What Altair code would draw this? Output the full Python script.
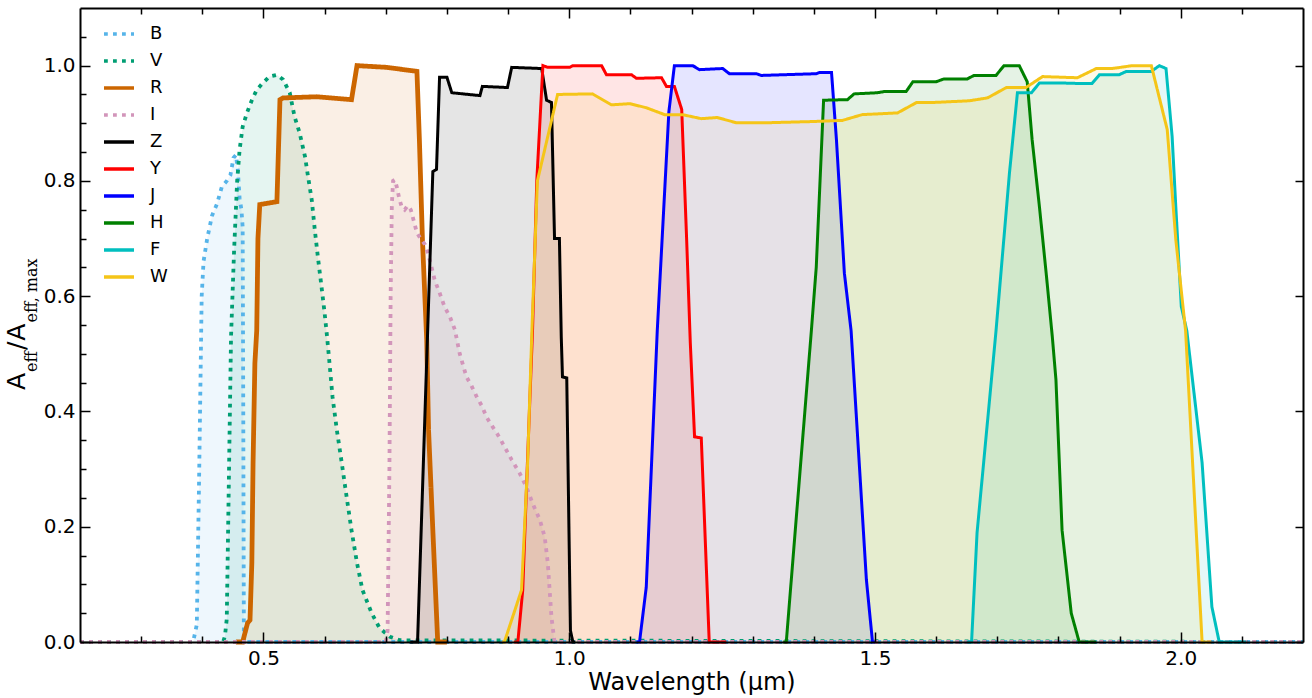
import altair as alt
import pandas as pd

bands = ["B", "V", "R", "I", "Z", "Y", "J", "H", "F", "W"]
band_colors = ["#56B4E9", "#009E73", "#CC6600", "#D295BA", "#000000",
               "#FF0000", "#0000FF", "#008000", "#00BFBF", "#F5C518"]
dot = [3.8, 5.2]
solid = [1, 0]
band_dashes = [dot, dot, solid, dot, solid, solid, solid, solid, solid, solid]

B_wl = [0.2, 0.385, 0.391, 0.395, 0.399, 0.402, 0.408, 0.416, 0.424, 0.432, 0.440,
        0.446, 0.451, 0.455, 0.458, 0.461, 0.464, 0.466, 0.467, 0.468, 2.2]
B_eff = [0, 0, 0.03, 0.30, 0.60, 0.66, 0.70, 0.74, 0.76, 0.79, 0.80,
         0.81, 0.84, 0.845, 0.82, 0.77, 0.75, 0.72, 0.40, 0.0, 0]

V_wl = [0.2, 0.434, 0.437, 0.440, 0.443, 0.447, 0.452, 0.457, 0.461, 0.466, 0.473,
        0.481, 0.489, 0.499, 0.510, 0.522, 0.532, 0.543, 0.551, 0.559, 0.568, 0.573,
        0.579, 0.584, 0.589, 0.595, 0.600, 0.604, 0.608, 0.613, 0.620, 0.628, 0.636,
        0.644, 0.653, 0.662, 0.677, 0.690, 0.707, 0.723, 2.2]
V_eff = [0, 0, 0.01, 0.04, 0.25, 0.53, 0.68, 0.80, 0.854, 0.894, 0.918,
         0.94, 0.958, 0.97, 0.981, 0.984, 0.976, 0.953, 0.911, 0.884, 0.842, 0.807,
         0.767, 0.715, 0.668, 0.616, 0.571, 0.53, 0.484, 0.425, 0.368, 0.311, 0.252,
         0.194, 0.137, 0.09, 0.05, 0.024, 0.009, 0.003, 0]

R_wl = [0.455, 0.466, 0.474, 0.478, 0.481, 0.483, 0.486, 0.489, 0.491, 0.494, 0.522,
        0.527, 0.532, 0.587, 0.644, 0.653, 0.702, 0.751, 0.755, 0.760, 0.767, 0.770,
        0.777, 0.785, 0.80]
R_eff = [0, 0, 0.033, 0.038, 0.137, 0.31, 0.484, 0.54, 0.70, 0.759, 0.764,
         0.941, 0.944, 0.946, 0.941, 1.0, 0.997, 0.99, 0.872, 0.698, 0.524, 0.368,
         0.194, 0.0, 0]

I_wl = [0.2, 0.700, 0.703, 0.706, 0.708, 0.710, 0.712, 0.715, 0.718, 0.722, 0.726,
        0.731, 0.736, 0.741, 0.746, 0.751, 0.757, 0.764, 0.769, 0.775, 0.780, 0.788,
        0.796, 0.805, 0.813, 0.821, 0.832, 0.840, 0.849, 0.857, 0.865, 0.875, 0.883,
        0.891, 0.906, 0.919, 0.930, 0.940, 0.952, 0.960, 0.965, 0.968, 0.971, 0.976, 2.2]
I_eff = [0, 0, 0.02, 0.3, 0.6, 0.76, 0.80, 0.802, 0.79, 0.77, 0.755,
         0.75, 0.757, 0.75, 0.73, 0.71, 0.70, 0.69, 0.675, 0.65, 0.628, 0.606,
         0.582, 0.564, 0.542, 0.50, 0.46, 0.445, 0.425, 0.41, 0.39, 0.373, 0.36,
         0.345, 0.316, 0.293, 0.269, 0.241, 0.212, 0.182, 0.137, 0.09, 0.043, 0, 0]

Z_wl = [0.74, 0.752, 0.777, 0.783, 0.788, 0.800, 0.808, 0.854, 0.858, 0.899, 0.906,
        0.955, 0.963, 0.971, 0.976, 0.984, 0.987, 0.989, 0.996, 1.002, 1.006, 1.01]
Z_eff = [0, 0, 0.816, 0.82, 0.98, 0.98, 0.953, 0.948, 0.964, 0.962, 0.997,
         0.995, 0.94, 0.936, 0.70, 0.70, 0.53, 0.46, 0.458, 0.02, 0, 0]

Y_wl = [0.91, 0.916, 0.924, 0.932, 0.940, 0.947, 0.957, 0.965, 1.001, 1.006, 1.053,
        1.061, 1.102, 1.110, 1.151, 1.159, 1.172, 1.184, 1.192, 1.198, 1.205, 1.216,
        1.229, 1.257]
Y_eff = [0, 0, 0.09, 0.32, 0.54, 0.80, 1.0, 0.997, 0.997, 1.0, 1.0,
         0.984, 0.984, 0.978, 0.979, 0.964, 0.964, 0.924, 0.70, 0.52, 0.356, 0.354,
         0.0, 0]

J_wl = [1.11, 1.115, 1.126, 1.144, 1.163, 1.172, 1.202, 1.213, 1.251, 1.262, 1.306,
        1.314, 1.404, 1.409, 1.429, 1.437, 1.450, 1.461, 1.486, 1.496, 1.50]
J_eff = [0, 0, 0.095, 0.54, 0.92, 1.0, 1.0, 0.993, 0.995, 0.986, 0.986,
         0.983, 0.986, 0.988, 0.988, 0.872, 0.64, 0.54, 0.108, 0.0, 0]

H_wl = [1.35, 1.355, 1.396, 1.404, 1.416, 1.455, 1.466, 1.504, 1.515, 1.551, 1.562,
        1.600, 1.613, 1.651, 1.662, 1.698, 1.711, 1.736, 1.749, 1.757, 1.769, 1.780,
        1.790, 1.796, 1.806, 1.821, 1.834, 1.862]
H_eff = [0, 0, 0.54, 0.65, 0.94, 0.941, 0.951, 0.953, 0.955, 0.955, 0.972,
         0.972, 0.977, 0.977, 0.983, 0.983, 1.0, 1.0, 0.972, 0.872, 0.755, 0.64,
         0.53, 0.455, 0.194, 0.05, 0.0, 0]

F_wl = [1.65, 1.658, 1.667, 1.698, 1.720, 1.733, 1.756, 1.769, 1.801, 1.834, 1.855,
        1.867, 1.899, 1.911, 1.952, 1.965, 1.976, 1.986, 1.992, 2.001, 2.010, 2.035,
        2.051, 2.063, 2.107]
F_eff = [0, 0, 0.19, 0.54, 0.814, 0.953, 0.953, 0.97, 0.97, 0.969, 0.969,
         0.984, 0.984, 0.99, 0.99, 1.0, 0.995, 0.877, 0.755, 0.582, 0.54, 0.311,
         0.061, 0.0, 0]

W_wl = [0.89, 0.894, 0.922, 0.932, 0.939, 0.948, 0.981, 1.038, 1.069, 1.099, 1.126,
        1.156, 1.185, 1.216, 1.242, 1.273, 1.327, 1.398, 1.447, 1.479, 1.537, 1.568,
        1.594, 1.654, 1.684, 1.715, 1.747, 1.774, 1.831, 1.862, 1.888, 1.921, 1.952,
        1.978, 1.992, 2.008, 2.035, 2.05]
W_eff = [0, 0, 0.09, 0.31, 0.54, 0.80, 0.95, 0.951, 0.932, 0.934, 0.927,
         0.915, 0.915, 0.908, 0.91, 0.901, 0.901, 0.903, 0.905, 0.915, 0.918, 0.936,
         0.936, 0.939, 0.944, 0.962, 0.962, 0.981, 0.979, 0.995, 0.995, 1.0, 1.0,
         0.889, 0.698, 0.54, 0.0, 0]

x_major = [0.5, 1.0, 1.5, 2.0]
x_minor = [0.3, 0.4, 0.6, 0.7, 0.8, 0.9, 1.1, 1.2, 1.3, 1.4, 1.6, 1.7, 1.8, 1.9, 2.1]
y_major = [0.0, 0.2, 0.4, 0.6, 0.8, 1.0]
y_minor = [0.05, 0.1, 0.15, 0.25, 0.3, 0.35, 0.45, 0.5, 0.55, 0.65, 0.7, 0.75,
           0.85, 0.9, 0.95, 1.05]

series = {"B": (B_wl, B_eff), "V": (V_wl, V_eff), "R": (R_wl, R_eff), "I": (I_wl, I_eff),
          "Z": (Z_wl, Z_eff), "Y": (Y_wl, Y_eff), "J": (J_wl, J_eff), "H": (H_wl, H_eff),
          "F": (F_wl, F_eff), "W": (W_wl, W_eff)}

rows = []
for b in bands:
    wl, eff = series[b]
    assert len(wl) == len(eff), b
    for i, (xv, yv) in enumerate(zip(wl, eff)):
        rows.append({"band": b, "fband": b + "_fill", "wl": xv, "eff": yv, "idx": i})
df = pd.DataFrame(rows)

xscale = alt.Scale(domain=[0.2, 2.2], nice=False, zero=False)
yscale = alt.Scale(domain=[0, 1.1], nice=False, zero=False)

legend_cfg = dict(title=None, orient="none", legendX=22, legendY=9, direction="vertical",
                  padding=0, symbolType="stroke", symbolSize=900, symbolStrokeWidth=3.5,
                  labelOffset=14, rowPadding=1, labelFontSize=18, labelFont="DejaVu Sans",
                  labelColor="black")

x_enc = alt.X("wl:Q", scale=xscale, axis=None)
y_enc = alt.Y("eff:Q", scale=yscale, axis=None, stack=None)

area = alt.Chart(df).mark_area(opacity=0.1).encode(
    x=x_enc,
    y=y_enc,
    fill=alt.Fill("fband:N", scale=alt.Scale(domain=[b + "_fill" for b in bands],
                                             range=band_colors), legend=None),
    detail="band:N",
)

line = alt.Chart(df).mark_line(strokeCap="butt", strokeJoin="miter").encode(
    x=x_enc,
    y=y_enc,
    order=alt.Order("idx:Q"),
    color=alt.Color("band:N", scale=alt.Scale(domain=bands, range=band_colors),
                    legend=alt.Legend(**legend_cfg)),
    strokeDash=alt.StrokeDash("band:N", scale=alt.Scale(domain=bands, range=band_dashes),
                              legend=alt.Legend(**legend_cfg)),
    strokeWidth={"condition": [
        {"test": "datum.band == 'R'", "value": 4.8},
        {"test": "indexof(['B','V','I'], datum.band) >= 0", "value": 3.8}],
        "value": 3},
)

dummy = pd.DataFrame({"wl": [1.0], "eff": [0.5]})


def axis_layer(xaxis, yaxis):
    return alt.Chart(dummy).mark_point(opacity=0).encode(
        x=alt.X("wl:Q", scale=xscale, axis=xaxis),
        y=alt.Y("eff:Q", scale=yscale, axis=yaxis),
    )


FONT = "DejaVu Sans"

ax_main = axis_layer(
    alt.Axis(orient="bottom", values=x_major, format=".1f", ticks=False, domain=True,
             domainColor="black", domainWidth=2, labelFontSize=20, labelFont=FONT,
             labelColor="black", labelPadding=6, grid=False, zindex=2,
             title="Wavelength (μm)", titleFontSize=24, titleFont=FONT,
             titleFontWeight="normal", titleColor="black", titlePadding=2),
    alt.Axis(orient="left", values=y_major, format=".1f", ticks=False, domain=True,
             domainColor="black", domainWidth=2, labelFontSize=20, labelFont=FONT,
             labelColor="black", labelPadding=5, grid=False, zindex=2, title=None),
)

ax_frame = axis_layer(
    alt.Axis(orient="top", ticks=False, labels=False, domain=True, domainColor="black",
             domainWidth=2, grid=False, zindex=2, title=None),
    alt.Axis(orient="right", ticks=False, labels=False, domain=True, domainColor="black",
             domainWidth=2, grid=False, zindex=2, title=None),
)


def tick_axis(orient, values, size):
    return alt.Axis(orient=orient, values=values, ticks=True, tickSize=size, offset=-size,
                    tickColor="black", tickWidth=1.5, labels=False, domain=False,
                    grid=False, zindex=2, title=None)


ax_major_bl = axis_layer(tick_axis("bottom", x_major, 10), tick_axis("left", y_major, 10))
ax_minor_bl = axis_layer(tick_axis("bottom", x_minor, 6), tick_axis("left", y_minor, 6))
ax_major_tr = axis_layer(tick_axis("top", x_major, 10), tick_axis("right", y_major, 8))
ax_minor_t = axis_layer(tick_axis("top", x_minor, 6), None)

# y-axis title A_eff / A_eff,max built from pieces (rotated)
pieces = [("A", "DejaVu Sans", 25, 0.684, -55),
          ("eff", "DejaVu Serif", 16, 1.30, -43),
          ("/", "DejaVu Sans", 25, 0.337, -55),
          ("A", "DejaVu Sans", 25, 0.684, -55),
          ("eff, max", "DejaVu Serif", 16, 4.04, -43)]
title_layers = []
ypos = 382.0
for txt, fnt, fs, w_em, xp in pieces:
    title_layers.append(
        alt.Chart(dummy).mark_text(text=txt, font=fnt, fontSize=fs, angle=270,
                                   align="left", baseline="alphabetic", color="black")
        .encode(x=alt.value(xp), y=alt.value(ypos))
    )
    ypos -= w_em * fs + 1

chart = alt.layer(
    area, line, ax_main, ax_frame, ax_major_bl, ax_minor_bl, ax_major_tr, ax_minor_t,
    *title_layers
).resolve_axis(x="independent", y="independent").properties(
    width=1223, height=634,
    padding={"left": 80, "top": 8, "right": 9, "bottom": 56},
    autosize=alt.AutoSizeParams(type="none"),
).configure_view(stroke=None)

chart.save("out.html", embed_options={"renderer": "svg", "actions": False})
